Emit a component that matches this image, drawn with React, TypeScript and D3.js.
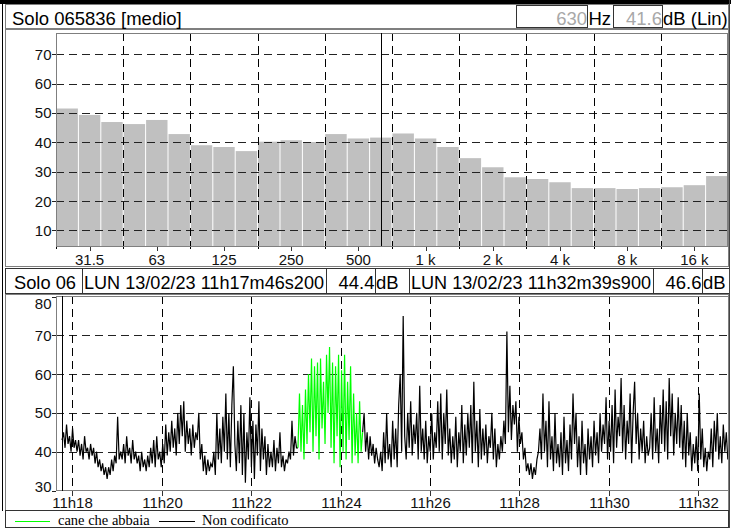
import React from 'react';
import * as d3 from 'd3';

// 1/3 octave spectrum (Leq, dB Lin)
const bands = ['25', '31.5', '40', '50', '63', '80', '100', '125', '160', '200', '250', '315', '400', '500', '630',
  '800', '1 k', '1.25 k', '1.6 k', '2 k', '2.5 k', '3.15 k', '4 k', '5 k', '6.3 k', '8 k', '10 k', '12.5 k', '16 k', '20 k'];
const bandLevels = [51.5, 49.3, 46.9, 46.2, 47.6, 42.8, 39.0, 38.4, 37.0, 40.2, 40.7, 40.1, 42.8, 41.3, 41.6,
  43.0, 41.3, 38.4, 34.6, 31.5, 28.1, 27.5, 26.4, 24.4, 24.4, 24.1, 24.4, 24.7, 25.4, 28.5];
const bandTickLabels = ['31.5', '63', '125', '250', '500', '1 k', '2 k', '4 k', '8 k', '16 k'];
const octaveEdges = ['50', '100', '200', '400', '800', '1.6 k', '3.15 k', '6.3 k', '12.5 k'];
const spectrumTicks = [10, 20, 30, 40, 50, 60, 70];
const cursorBand = '630';

// time history, one value every ~2 s from 11h17m46s200 to 11h32m39s900
const startSec = 11 * 3600 + 17 * 60 + 46.2;
const endSec = 11 * 3600 + 32 * 60 + 39.9;
const uncodedBefore = [
  43, 45, 41, 47, 42, 44, 40, 46, 41, 43,
  40, 43, 39, 42, 38, 44, 40, 41, 38, 42,
  39, 41, 37, 40, 36, 38, 35, 37, 34, 36,
  33, 36, 34, 38, 35, 39, 37, 49, 38, 40,
  38, 42, 37, 44, 39, 41, 37, 43, 38, 40,
  37, 39, 35, 40, 36, 38, 35, 39, 36, 41,
  37, 43, 36, 44, 38, 40, 36, 42, 37, 47,
  39, 45, 40, 48, 41, 46, 39, 50, 42, 52,
  44, 53, 40, 48, 42, 46, 39, 47, 41, 45,
  43, 50, 38, 42, 35, 39, 34, 38, 35, 37,
  36, 40, 34, 50, 38, 46, 37, 49, 40, 55,
  38, 50, 36, 52, 62, 42, 35, 48, 37, 52,
  34, 50, 32, 45, 38, 54, 36, 48, 33, 47,
  39, 53, 35, 46, 38, 44, 34, 42, 36, 40,
  36, 43, 35, 41, 37, 45, 36, 39, 35, 38,
  37, 40, 38, 48, 39, 44, 41,
];
const barking = [
  41, 55, 40, 52, 38, 56, 42, 60, 45, 64,
  40, 62, 44, 63, 38, 64, 46, 58, 42, 65,
  50, 67, 41, 63, 37, 62, 44, 65, 36, 61,
  40, 65, 38, 58, 43, 62, 37, 55, 39, 50,
  37, 53, 40, 45,
];
const uncodedAfter = [
  50, 40, 45, 38, 44, 39, 42, 37, 41, 38,
  36, 40, 35, 45, 37, 50, 38, 42, 36, 48,
  38, 46, 36, 52, 60, 40, 75, 44, 38, 50,
  41, 53, 39, 47, 42, 50, 38, 57, 40, 46,
  38, 48, 37, 44, 40, 50, 38, 45, 41, 53,
  40, 55, 38, 50, 42, 56, 39, 46, 37, 44,
  38, 49, 36, 45, 40, 52, 37, 47, 39, 50,
  41, 52, 37, 58, 40, 48, 36, 51, 38, 46,
  39, 47, 37, 44, 41, 50, 38, 46, 36, 42,
  38, 44, 40, 48, 42, 71, 45, 57, 43, 52,
  47, 53, 40, 49, 42, 45, 38, 41, 35, 37,
  34, 37, 33, 36, 34, 38, 40, 46, 38, 55,
  40, 48, 36, 53, 38, 44, 35, 50, 37, 42,
  36, 45, 34, 49, 37, 43, 35, 47, 38, 55,
  42, 50, 36, 44, 34, 48, 37, 42, 34, 46,
  38, 44, 36, 48, 39, 45, 37, 50, 40, 47,
  42, 54, 38, 48, 40, 52, 37, 56, 41, 49,
  44, 59, 40, 52, 38, 48, 42, 55, 37, 50,
  58, 42, 50, 38, 46, 40, 48, 37, 44, 39,
  41, 50, 38, 54, 40, 46, 37, 52, 42, 56,
  40, 53, 38, 59, 44, 55, 39, 50, 42, 54,
  41, 52, 38, 48, 36, 50, 39, 45, 35, 42,
  37, 44, 35, 55, 38, 46, 36, 41, 35, 40,
  38, 46, 36, 48, 40, 50, 38, 44, 37, 47,
  40, 45, 38,
];
const timeTicks = ['11h18', '11h20', '11h22', '11h24', '11h26', '11h28', '11h30', '11h32'];
const historyTicks = [30, 40, 50, 60, 70, 80];

const sans = '"Liberation Sans", Arial, sans-serif';
const serif = '"Liberation Serif", "Times New Roman", serif';
const frame = '#7f7f7f';
const dash = '8 5';
const hfs = 18.5; // header font size
const tfs = 15; // tick font size

const toSec = (s: string) => {
  const [h, m] = s.split('h').map(Number);
  return h * 3600 + m * 60;
};

export default function App() {
  // spectrum
  const x1 = d3.scaleBand().domain(bands).range([56, 728]);
  const y1 = d3.scaleLinear().domain([4.7, 77.2]).range([246, 33]);
  const bw = x1.bandwidth();

  // time history
  const x2 = d3.scaleLinear().domain([40658.1, 41561.5]).range([56, 729]);
  const y2 = d3.scaleLinear().domain([30, 80]).range([490.5, 296.5]);
  const all = [...uncodedBefore, ...barking, ...uncodedAfter];
  const step = (endSec - startSec) / (all.length - 1);
  const pts = all.map((v, i) => ({ t: startSec + i * step, v }));
  const b0 = uncodedBefore.length;
  const b1 = b0 + barking.length;
  const line = d3.line<{ t: number; v: number }>().x(d => x2(d.t)).y(d => y2(d.v));
  const seg1 = pts.slice(0, b0 + 1);
  const segG = pts.slice(b0, b1);
  const seg2 = pts.slice(b1 - 1);

  return (
    <svg width={731} height={529} style={{ position: 'absolute', left: 0, top: 0, background: '#fff' }}
      fontFamily={sans}>
      <rect x={0} y={0} width={731} height={529} fill="#fff" />

      {/* header 1 */}
      <rect x={5.5} y={4.5} width={723} height={24} fill="#fff" stroke={frame} />
      <text x={12} y={24.5} fontSize={hfs}>Solo 065836 [medio]</text>
      <rect x={516.5} y={5.5} width={71} height={22} fill="#fff" stroke="#333" />
      <text x={587} y={24.5} fontSize={hfs} textAnchor="end" fill="#a8a8a8">630</text>
      <text x={588.5} y={24.5} fontSize={hfs}>Hz</text>
      <rect x={613.5} y={5.5} width={49} height={22} fill="#fff" stroke="#333" />
      <text x={662} y={24.5} fontSize={hfs} textAnchor="end" fill="#a8a8a8">41.6</text>
      <text x={663} y={24.5} fontSize={hfs}>dB (Lin)</text>

      {/* spectrum panel */}
      <rect x={5.5} y={29.5} width={723} height={237} fill="#fff" stroke={frame} />
      {bands.map((b, i) => (
        <rect key={b} x={x1(b)! + 0.5} y={y1(bandLevels[i])} width={bw - 1}
          height={y1.range()[0] - y1(bandLevels[i])} fill="#c0c0c0" />
      ))}
      {spectrumTicks.map(t => (
        <g key={t}>
          <line x1={56} x2={728} y1={Math.round(y1(t)) + 0.5} y2={Math.round(y1(t)) + 0.5}
            stroke="#222" strokeDasharray={dash} />
          <line x1={52} x2={56} y1={Math.round(y1(t)) + 0.5} y2={Math.round(y1(t)) + 0.5} stroke="#222" />
          <text x={51.5} y={y1(t) + 5.5} fontSize={tfs} textAnchor="end" fill="#111">{t}</text>
        </g>
      ))}
      {octaveEdges.map(b => (
        <line key={b} x1={Math.round(x1(b)!) + 0.5} x2={Math.round(x1(b)!) + 0.5} y1={33} y2={250}
          stroke="#000" strokeDasharray={dash} />
      ))}
      <line x1={56.5} x2={56.5} y1={33} y2={250} stroke="#000" strokeDasharray={dash} />
      {bandTickLabels.map(b => {
        const cx = x1(b)! + bw / 2;
        return (
          <g key={b}>
            <line x1={Math.round(cx) + 0.5} x2={Math.round(cx) + 0.5} y1={246} y2={251} stroke="#333" />
            <text x={cx} y={264.5} fontSize={tfs} textAnchor="middle" fill="#111">{b}</text>
          </g>
        );
      })}
      <rect x={56.5} y={33.5} width={671} height={213} fill="none" stroke={frame} />
      <line x1={Math.round(x1(cursorBand)! + bw / 2) + 0.5} x2={Math.round(x1(cursorBand)! + bw / 2) + 0.5}
        y1={33} y2={246} stroke="#000" />

      {/* header 2 */}
      {[[5, 82], [82, 326], [326, 375], [375, 409], [409, 653], [653, 702], [702, 729]].map(([a, b]) => (
        <rect key={a} x={a + 0.5} y={268.5} width={b - a} height={25} fill="#fff" stroke="#333" />
      ))}
      <text x={14} y={288.5} fontSize={hfs} textLength={62} lengthAdjust="spacingAndGlyphs">Solo 06</text>
      <text x={84} y={288.5} fontSize={hfs} textLength={240} lengthAdjust="spacingAndGlyphs">LUN 13/02/23 11h17m46s200</text>
      <text x={374.5} y={288.5} fontSize={hfs} textAnchor="end">44.4</text>
      <text x={376} y={288.5} fontSize={hfs}>dB</text>
      <text x={411} y={288.5} fontSize={hfs} textLength={240} lengthAdjust="spacingAndGlyphs">LUN 13/02/23 11h32m39s900</text>
      <text x={701.5} y={288.5} fontSize={hfs} textAnchor="end">46.6</text>
      <text x={703} y={288.5} fontSize={hfs}>dB</text>

      {/* time history panel */}
      <rect x={5.5} y={294.5} width={723} height={216} fill="#fff" stroke={frame} />
      {historyTicks.map(t => (
        <g key={t}>
          {t > 30 && t < 80 && (
            <line x1={56} x2={729} y1={Math.round(y2(t)) + 0.5} y2={Math.round(y2(t)) + 0.5}
              stroke="#222" strokeDasharray={dash} />
          )}
          <line x1={52} x2={56} y1={Math.round(y2(t)) + 0.5} y2={Math.round(y2(t)) + 0.5} stroke="#222" />
          <text x={51.5} y={Math.min(Math.max(y2(t) + 5.5, 309), 492)} fontSize={tfs} textAnchor="end"
            fill="#111">{t}</text>
        </g>
      ))}
      {timeTicks.map(t => {
        const tx = Math.round(x2(toSec(t))) + 0.5;
        return (
          <g key={t}>
            <line x1={tx} x2={tx} y1={296} y2={491} stroke="#000" strokeDasharray={dash} />
            <line x1={tx} x2={tx} y1={491} y2={496} stroke="#333" />
            <text x={tx} y={508} fontSize={tfs} textAnchor="middle" fill="#111">{t}</text>
          </g>
        );
      })}
      <path d={line(seg1)!} fill="none" stroke="#000" strokeWidth={1.2} />
      <path d={line(seg2)!} fill="none" stroke="#000" strokeWidth={1.2} />
      <path d={line(segG)!} fill="none" stroke="#00ff00" strokeWidth={1.2} />
      <rect x={56.5} y={296.5} width={672} height={194} fill="none" stroke={frame} />
      <line x1={Math.round(x2(startSec)) + 0.5} x2={Math.round(x2(startSec)) + 0.5} y1={296} y2={491}
        stroke="#000" />

      {/* legend */}
      <rect x={5.5} y={510.5} width={723} height={17} fill="#fff" stroke="#333" />
      <line x1={15} x2={50} y1={521.5} y2={521.5} stroke="#00ff00" />
      <text x={58} y={525} fontSize={14.5} fontFamily={serif}>cane che abbaia</text>
      <line x1={159} x2={195} y1={521.5} y2={521.5} stroke="#000" />
      <text x={202} y={525} fontSize={14.5} fontFamily={serif}>Non codificato</text>

      {/* outer frame */}
      <rect x={0} y={0} width={731} height={4} fill="#000" />
      <line x1={2.5} x2={2.5} y1={0} y2={511} stroke="#000" />
      <line x1={729.5} x2={729.5} y1={0} y2={528} stroke="#444" />
    </svg>
  );
}
